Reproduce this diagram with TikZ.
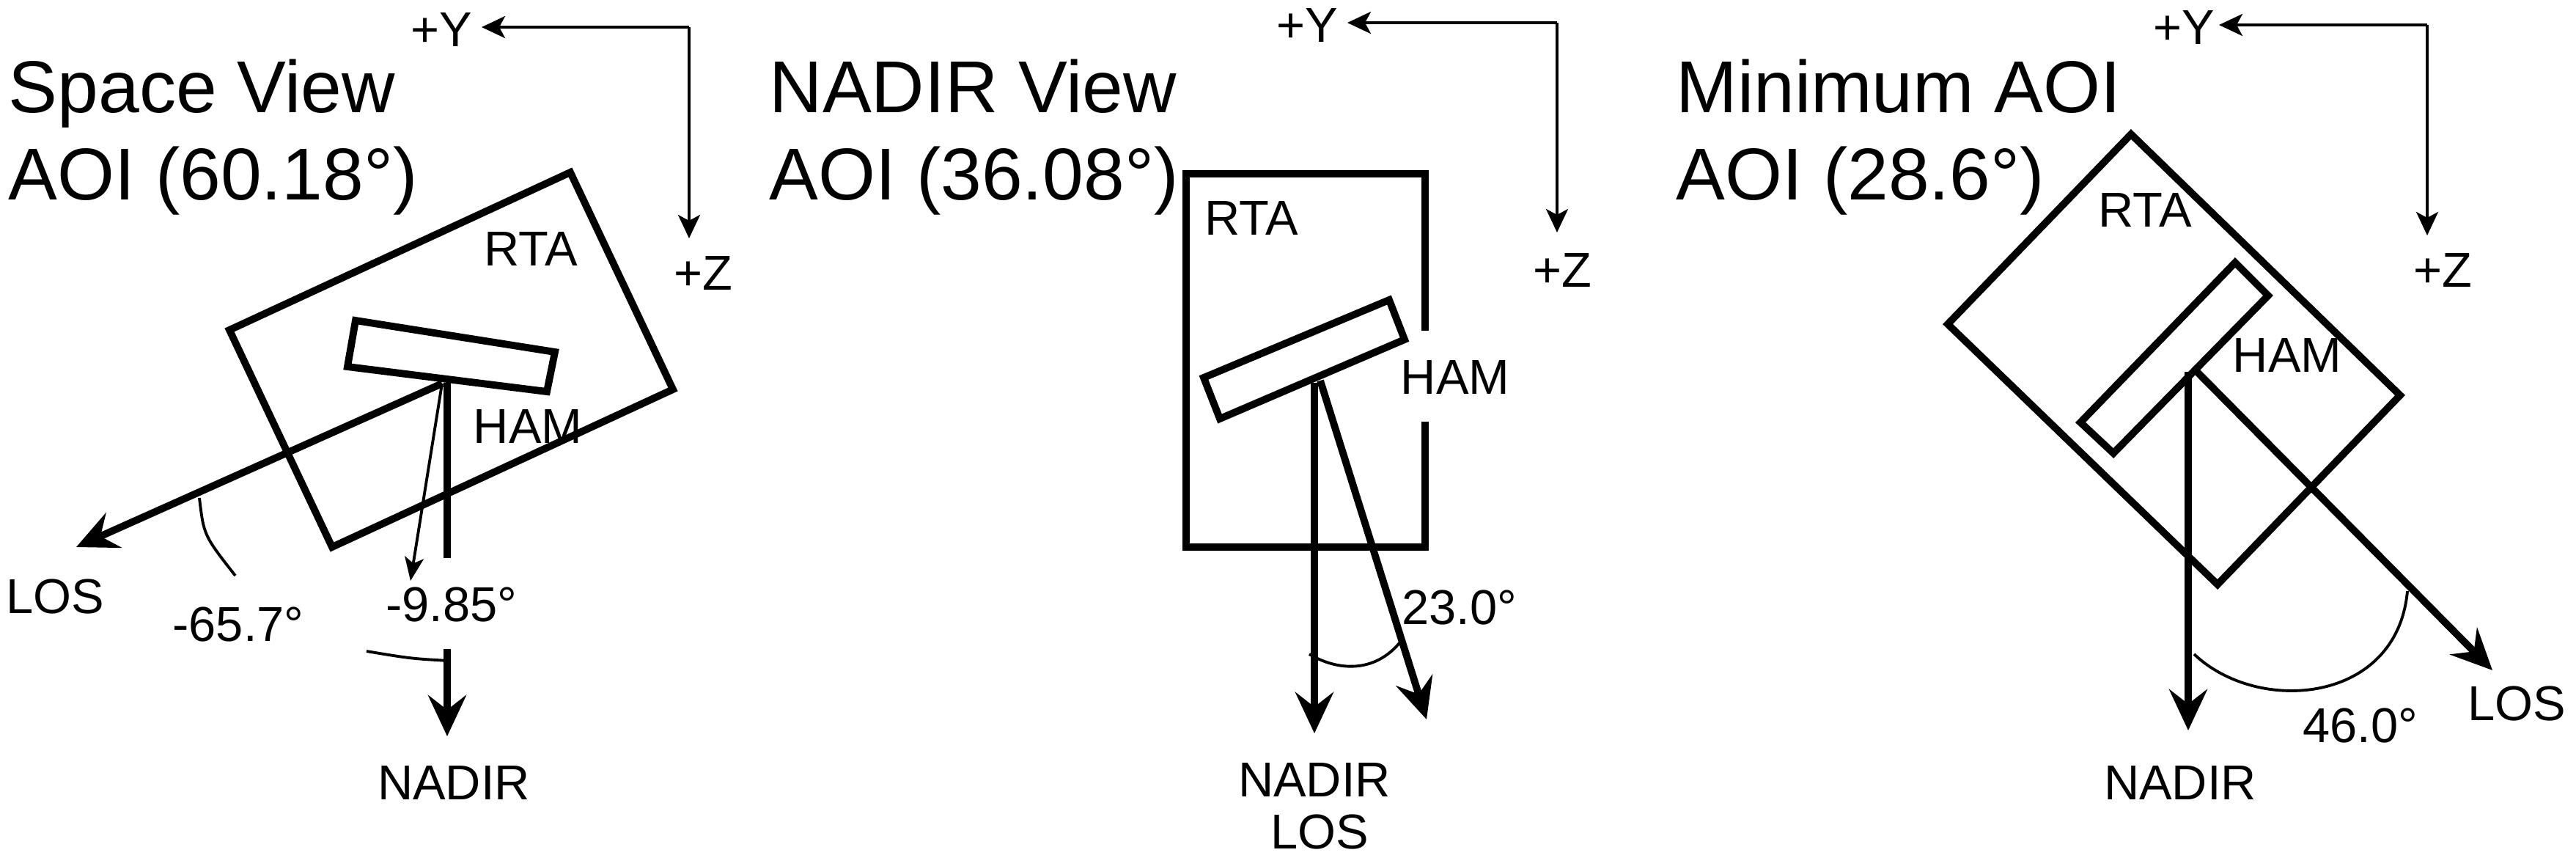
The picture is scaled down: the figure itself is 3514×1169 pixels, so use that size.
\documentclass[tikz,border=0pt]{standalone}
\usepackage{fontspec}
\setmainfont{Liberation Sans}
\usetikzlibrary{arrows.meta}
\begin{document}
\begin{tikzpicture}[x=0.01cm,y=-0.01cm,
  thickline/.style={line width=2.8pt,line join=miter},
  thinline/.style={line width=1.1pt},
  bigarrow/.style={thickline,-{Stealth[length=0.56cm,width=0.52cm,inset=0.2cm]}},
  axarrow/.style={line width=1.1pt,-{Stealth[length=0.32cm,width=0.3cm,inset=0.08cm]}},
  smallarrow/.style={thinline,-{Stealth[length=0.32cm,width=0.26cm,inset=0.08cm]}},
  title/.style={font=\fontsize{28.5pt}{32pt}\selectfont,anchor=base west,inner sep=0},
  lbl/.style={font=\fontsize{19pt}{22pt}\selectfont,inner sep=0}]
\useasboundingbox (0,0) rectangle (3514,1169);
% ---------- Panel 1 ----------
\node[title] (t1a) at (11,153) {Space View};
\node[title] (t1b) at (11,272) {AOI (60.18°)};
\coordinate (a1c) at (940,37);
\coordinate (a1y) at (657,37);
\coordinate (a1z) at (940,325);
\draw[axarrow] (a1c) -- (a1y);
\draw[axarrow] (a1c) -- (a1z);
\node[lbl,anchor=east] (y1) at (645,41) {+Y};
\node[lbl] (z1) at (959,373) {+Z};
\draw[thickline] (778,235) -- (918,531) -- (453,746) -- (313,450) -- cycle;
\node[lbl] (rta1) at (724,340) {RTA};
\draw[thickline] (485,437) -- (757,480) -- (746,534) -- (474,500) -- cycle;
\node[lbl] (ham1) at (720,582) {HAM};
\coordinate (p1) at (603,523);
\draw[thickline] (610,522) -- (610,761);
\coordinate (n1s) at (610,885);
\coordinate (n1e) at (610,1004);
\draw[bigarrow] (n1s) -- (n1e);
\draw[thinline] (500,888) .. controls (560,898) .. (612,901);
\draw[smallarrow] (p1) -- (560,792);
\coordinate (los1) at (104,746);
\draw[bigarrow] (p1) -- (los1);
\draw[thinline] (272,679) .. controls (278,730) .. (321,785);
\node[lbl] (los1t) at (75,813) {LOS};
\node[lbl] (ang1a) at (325,851) {-65.7°};
\node[lbl] (ang1b) at (616,824) {-9.85°};
\node[lbl] (nad1) at (619,1067) {NADIR};
% ---------- Panel 2 ----------
\node[title] (t2a) at (1049,153) {NADIR View};
\node[title] (t2b) at (1049,272) {AOI (36.08°)};
\coordinate (a2c) at (2124,31);
\draw[axarrow] (a2c) -- (1838,31);
\draw[axarrow] (a2c) -- (2124,317);
\node[lbl,anchor=east] (y2) at (1826,35) {+Y};
\node[lbl] (z2) at (2131,369) {+Z};
\draw[thickline] (1944,451) -- (1944,237) -- (1618,237) -- (1618,746) -- (1944,746) -- (1944,575);
\node[lbl] (rta2) at (1707,298) {RTA};
\draw[thickline] (1642,515) -- (1895,409) -- (1916,463) -- (1664,571) -- cycle;
\node[lbl] (ham2) at (1985,515) {HAM};
\coordinate (p2) at (1793,522);
\draw[bigarrow] (p2) -- (1793,1000);
\draw[bigarrow] (1801,519) -- (1946,981);
\draw[thinline] (1786,892) .. controls (1830,918) and (1880,915) .. (1912,873);
\node[lbl] (ang2) at (1991,828) {23.0°};
\node[lbl] (nad2) at (1793,1063) {NADIR};
\node[lbl] (los2) at (1800,1134) {LOS};
% ---------- Panel 3 ----------
\node[title] (t3a) at (2286,153) {Minimum AOI};
\node[title] (t3b) at (2286,272) {AOI (28.6°)};
\coordinate (a3c) at (3311,34);
\draw[axarrow] (a3c) -- (3027,34);
\draw[axarrow] (a3c) -- (3311,321);
\node[lbl,anchor=east] (y3) at (3022,38) {+Y};
\node[lbl] (z3) at (3332,369) {+Z};
\draw[thickline] (2907,183) -- (3274,539) -- (3025,797) -- (2657,442) -- cycle;
\node[lbl] (rta3) at (2926,287) {RTA};
\draw[thickline] (3049,358) -- (3094,403) -- (2883,618) -- (2838,576) -- cycle;
\node[lbl] (ham3) at (3120,485) {HAM};
\draw[bigarrow] (2985,507) -- (2985,996);
\draw[bigarrow] (2997,507) -- (3400,914);
\draw[thinline] (2993,892) .. controls (3080,975) and (3270,960) .. (3284,806);
\node[lbl] (ang3) at (3220,989) {46.0°};
\node[lbl] (nad3) at (2974,1067) {NADIR};
\node[lbl] (los3) at (3433,959) {LOS};
\end{tikzpicture}
\end{document}
